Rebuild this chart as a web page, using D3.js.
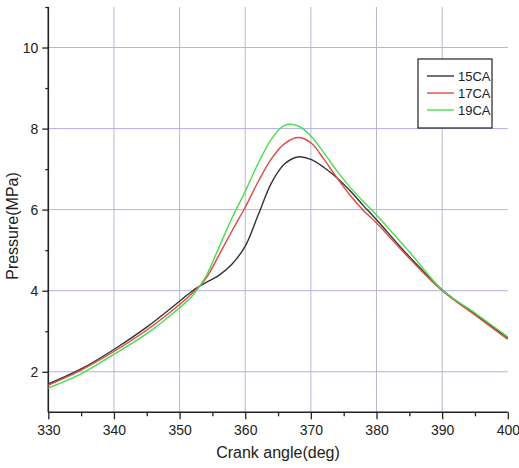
<!DOCTYPE html>
<html>
<head>
<meta charset="utf-8">
<script src="https://cdn.jsdelivr.net/npm/d3@7"></script>
<style>
  body { margin: 0; background: #fff; }
  text { font-family: "Liberation Sans", Arial, sans-serif; fill: #222; }
</style>
</head>
<body>
<svg width="519" height="468"></svg>
<script>
var angles = [330, 335, 340, 345, 350, 352, 354, 356, 358, 360, 362, 364, 366, 368, 370, 372, 374, 376, 378, 380, 385, 390, 395, 400];
var ca15 = [1.70, 2.07, 2.55, 3.10, 3.74, 4.00, 4.20, 4.38, 4.66, 5.10, 5.88, 6.66, 7.13, 7.30, 7.24, 7.04, 6.78, 6.46, 6.10, 5.75, 4.84, 4.02, 3.42, 2.84];
var ca17 = [1.67, 2.04, 2.50, 3.03, 3.66, 3.95, 4.30, 4.88, 5.48, 6.06, 6.70, 7.26, 7.63, 7.78, 7.65, 7.24, 6.78, 6.35, 5.98, 5.67, 4.80, 4.00, 3.40, 2.80];
var ca19 = [1.60, 1.95, 2.43, 2.94, 3.58, 3.88, 4.35, 5.07, 5.80, 6.45, 7.15, 7.74, 8.08, 8.07, 7.82, 7.40, 6.95, 6.55, 6.20, 5.87, 4.96, 4.02, 3.45, 2.86];
var seriesNames = ["15CA", "17CA", "19CA"];
var seriesColors = ["#333333", "#e04848", "#4cdc4c"];
var xTicks = [330, 340, 350, 360, 370, 380, 390, 400];
var yTicks = [2, 4, 6, 8, 10];

var svg = d3.select("svg");

var x = d3.scaleLinear().domain([330, 400]).range([48.3, 507.8]);
var y = d3.scaleLinear().domain([1, 11]).range([412.3, 7]);

// grid
svg.append("g")
  .selectAll("line")
  .data(xTicks.filter(function(d){ return d > 330 && d < 400; }))
  .enter().append("line")
    .attr("x1", function(d){ return x(d); })
    .attr("x2", function(d){ return x(d); })
    .attr("y1", y(11))
    .attr("y2", y(1))
    .style("stroke", "#b8b8d4")
    .style("stroke-width", 1);

svg.append("g")
  .selectAll("line")
  .data(yTicks)
  .enter().append("line")
    .attr("x1", x(330))
    .attr("x2", x(400))
    .attr("y1", function(d){ return y(d); })
    .attr("y2", function(d){ return y(d); })
    .style("stroke", "#b0b0ec")
    .style("stroke-width", 1);

// axes
var xAxis = svg.append("g")
  .attr("transform", "translate(0," + y(1) + ")")
  .call(d3.axisBottom(x).tickValues(xTicks).tickSize(7).tickPadding(6).tickFormat(d3.format("d")));
svg.append("g")
  .attr("transform", "translate(0," + y(1) + ")")
  .call(d3.axisBottom(x).tickValues(d3.range(335, 400, 10)).tickSize(4).tickFormat(""))
  .select(".domain").remove();

var yAxis = svg.append("g")
  .attr("transform", "translate(" + x(330) + ",0)")
  .call(d3.axisLeft(y).tickValues(yTicks).tickSize(6).tickPadding(4).tickFormat(d3.format("d")));
svg.append("g")
  .attr("transform", "translate(" + x(330) + ",0)")
  .call(d3.axisLeft(y).tickValues([3, 5, 7, 9, 11]).tickSize(3).tickFormat(""))
  .select(".domain").remove();

xAxis.select(".domain").attr("d", "M" + x(330) + ",0H" + x(400)).style("stroke", "#222").style("stroke-width", 1.6);
yAxis.select(".domain").attr("d", "M0," + y(1) + "V" + y(11)).style("stroke", "#222").style("stroke-width", 1.6);
svg.selectAll(".tick line").style("stroke", "#222").style("stroke-width", 1.3);
svg.selectAll(".tick text").style("font-size", "14px").style("font-family", "'Liberation Sans', Arial, sans-serif").style("fill", "#222");

// axis titles
svg.append("text")
  .attr("x", 278)
  .attr("y", 458)
  .attr("text-anchor", "middle")
  .style("font-size", "16px")
  .text("Crank angle(deg)");

svg.append("text")
  .attr("transform", "translate(18,226) rotate(-90)")
  .attr("text-anchor", "middle")
  .style("font-size", "16px")
  .text("Pressure(MPa)");

// curves
var allSeries = [ca15, ca17, ca19];
var line = d3.line()
  .x(function(d){ return x(d[0]); })
  .y(function(d){ return y(d[1]); })
  .curve(d3.curveCatmullRom.alpha(0.5));

svg.append("g")
  .selectAll("path")
  .data(allSeries)
  .enter().append("path")
    .attr("d", function(s){ return line(angles.map(function(a, i){ return [a, s[i]]; })); })
    .style("fill", "none")
    .style("stroke", function(s, i){ return seriesColors[i]; })
    .style("stroke-width", 1.4);

// legend
var legend = svg.append("g").attr("transform", "translate(418,59)");
legend.append("rect")
  .attr("width", 74).attr("height", 69)
  .style("fill", "#fff").style("stroke", "#222").style("stroke-width", 1.2);
var items = legend.selectAll(".item")
  .data(seriesNames)
  .enter().append("g")
    .attr("transform", function(d, i){ return "translate(0," + (17 + i * 17) + ")"; });
items.append("line")
  .attr("x1", 9).attr("x2", 36)
  .style("stroke", function(d, i){ return seriesColors[i]; })
  .style("stroke-width", 1.4);
items.append("text")
  .attr("x", 40).attr("dy", "0.36em")
  .style("font-size", "13px")
  .text(function(d){ return d; });
</script>
</body>
</html>
